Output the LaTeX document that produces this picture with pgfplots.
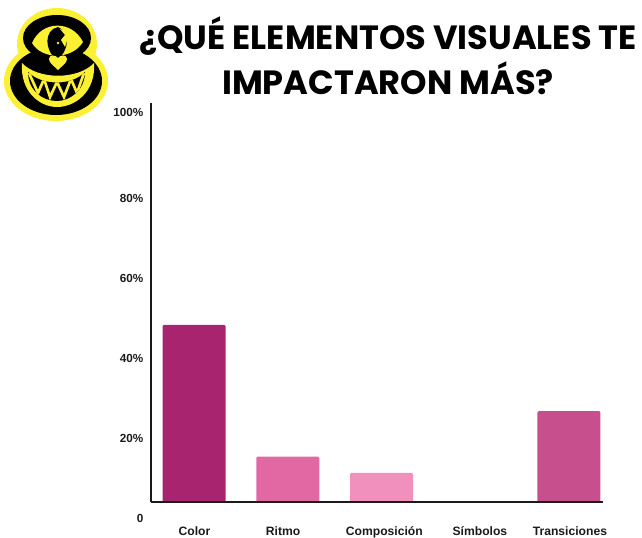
\documentclass[border=0pt]{standalone}
\usepackage{fontspec}
\setmainfont{Liberation Sans}
\newfontfamily\titlefont{Poppins}[BoldFont={Poppins Bold}]
\usepackage{pgfplots}
\pgfplotsset{compat=1.18}
\definecolor{cColor}{HTML}{A9246F}
\definecolor{cRitmo}{HTML}{E268A4}
\definecolor{cComp}{HTML}{F290BD}
\definecolor{cTrans}{HTML}{C84F8E}
\definecolor{axk}{HTML}{1A1A1A}
\definecolor{logoy}{HTML}{FBF032}
\begin{document}
\begin{tikzpicture}
\useasboundingbox (0,0) rectangle (481.5pt,-403.5pt);
\begin{scope}[x=0.75pt,y=-0.75pt]
% logo
\fill[logoy] (57,44) circle [x radius=40, y radius=36];
\fill[logoy] (56,81) circle [x radius=52, y radius=40];
\fill[black] (57,38) circle [x radius=34, y radius=23];
\fill[black] (56,81) circle [x radius=46, y radius=34];
\fill[logoy] (32,43) .. controls (42,20) and (72,20) .. (83,42) .. controls (72,60) and (42,60) .. (32,43) -- cycle;
\fill[black] (58,27) .. controls (44,30) and (44,50) .. (57,60) .. controls (70,50) and (70,32) .. (58,27) -- cycle;
\fill[logoy] (60,29) -- (65,35) -- (61,40) -- (65,47) -- (68,38) -- (66,31) -- cycle;
\fill[logoy] (58,43) circle [radius=1.3];
\fill[logoy] (58,70) .. controls (54,66) and (49,63) .. (49,59) .. controls (49,54) and (56,55) .. (58,58) .. controls (60,55) and (67,54) .. (67,59) .. controls (67,63) and (62,66) .. (58,70) -- cycle;
\fill[logoy] (22,63) .. controls (38,80) and (78,80) .. (94,63) .. controls (96,92) and (75,107) .. (57,107) .. controls (40,107) and (20,92) .. (22,63) -- cycle;
\begin{scope}
\clip (28,72) .. controls (42,86) and (72,86) .. (85,72) .. controls (85,90) and (70,101) .. (57,101) .. controls (42,101) and (28,90) .. (28,72) -- cycle;
\fill[black] (20,60) rectangle (95,105);
\draw[logoy,line width=2] (29,73) -- (38,93) -- (44,79) -- (50,97) -- (57,82) -- (64,97) -- (71,79) -- (77,93) -- (84,73);
\end{scope}
% title
\node[font=\titlefont\bfseries\fontsize{25.2}{33.75}\selectfont,align=center,anchor=center] at (388,56) {¿QUÉ ELEMENTOS VISUALES TE\\IMPACTARON MÁS?};
\end{scope}
\begin{axis}[
  at={(113.25pt,-376.5pt)}, anchor=south west,
  scale only axis, width=339pt, height=299.25pt,
  xmin=-0.459, xmax=4.363, ymin=0, ymax=100,
  axis x line=bottom, axis y line=left,
  axis line style={axk,line width=1.9pt,-},
  ybar, bar width=47.25pt, bar shift=0pt,
  xtick={0.005,0.95,2.03,3.05,4.01},
  xticklabels={Color,Ritmo,Composición,Símbolos,Transiciones},
  ytick={0,20,40,60,80},
  yticklabels={0\hspace{3pt},20\%,40\%,60\%,80\%},
  extra y ticks={100}, extra y tick labels={100\%},
  extra tick style={yticklabel style={yshift=5.25pt}},
  major tick length=0pt,
  tick style={draw=none},
  xticklabel style={font=\bfseries\fontsize{9.1}{10}\selectfont,color=axk,yshift=-15pt},
  yticklabel style={font=\bfseries\fontsize{8.8}{10}\selectfont,color=axk,yshift=-12pt,xshift=-2.2pt},
  /pgf/number format/assume math mode=true,
  clip=false,
  axis on top=true,
]
\addplot[fill=cColor,draw=none,rounded corners=1pt] coordinates {(0,44.4)};
\addplot[fill=cRitmo,draw=none,rounded corners=1pt] coordinates {(1,11.4)};
\addplot[fill=cComp,draw=none,rounded corners=1pt] coordinates {(2,7.3)};
\addplot[fill=cComp,draw=none] coordinates {(3,0)};
\addplot[fill=cTrans,draw=none,rounded corners=1pt] coordinates {(4,22.8)};
\end{axis}
\end{tikzpicture}
\end{document}
